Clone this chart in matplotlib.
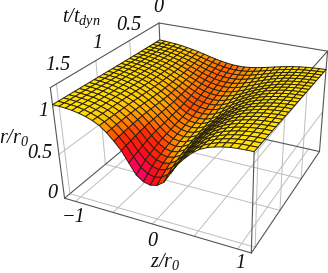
#!/usr/bin/env python3
""" Collapse surface r/r0 over z/r0 and t/t_dyn """
import matplotlib

matplotlib.use("Agg")
import matplotlib.pyplot as plt
import numpy as np
from matplotlib.colors import LinearSegmentedColormap
from mpl_toolkits.mplot3d.art3d import Poly3DCollection

W, H = 328, 273

plt.rcParams["font.family"] = ["Liberation Serif", "DejaVu Serif"]
plt.rcParams["mathtext.fontset"] = "custom"
plt.rcParams["mathtext.it"] = "Liberation Serif:italic"
plt.rcParams["mathtext.rm"] = "Liberation Serif:italic"

Z_MAX = 1.15
T_MAX = 1.57
R_MAX = 1.2

z_ticks = [-1.0, -0.5, 0.0, 0.5, 1.0]
t_ticks = [0.5, 1.0, 1.5]
r_ticks = [0.5, 1.0]

# r/r0, rows are t = 0 .. tmax, columns z = -zmax .. 0
r_half = np.array([
    [0.994, 0.991, 0.986, 0.980, 0.972, 0.961, 0.949, 0.934, 0.918, 0.901, 0.885, 0.871, 0.860, 0.852, 0.850],
    [0.995, 0.992, 0.987, 0.980, 0.972, 0.960, 0.946, 0.930, 0.911, 0.892, 0.874, 0.858, 0.845, 0.836, 0.833],
    [0.996, 0.993, 0.988, 0.981, 0.971, 0.958, 0.943, 0.925, 0.905, 0.883, 0.863, 0.844, 0.830, 0.820, 0.817],
    [0.998, 0.994, 0.988, 0.981, 0.971, 0.957, 0.941, 0.921, 0.898, 0.875, 0.851, 0.831, 0.814, 0.803, 0.800],
    [0.999, 0.995, 0.989, 0.981, 0.970, 0.956, 0.938, 0.916, 0.891, 0.866, 0.840, 0.818, 0.799, 0.787, 0.783],
    [1.000, 0.996, 0.990, 0.982, 0.970, 0.954, 0.935, 0.912, 0.885, 0.857, 0.829, 0.804, 0.784, 0.771, 0.767],
    [1.001, 0.997, 0.991, 0.982, 0.969, 0.953, 0.932, 0.907, 0.878, 0.848, 0.818, 0.791, 0.769, 0.755, 0.750],
    [1.003, 0.999, 0.993, 0.983, 0.970, 0.954, 0.932, 0.907, 0.877, 0.845, 0.811, 0.780, 0.755, 0.740, 0.733],
    [1.004, 1.000, 0.994, 0.985, 0.971, 0.954, 0.933, 0.906, 0.875, 0.841, 0.804, 0.770, 0.741, 0.724, 0.717],
    [1.006, 1.002, 0.996, 0.986, 0.972, 0.955, 0.933, 0.906, 0.873, 0.837, 0.798, 0.758, 0.726, 0.707, 0.700],
    [1.007, 1.004, 0.997, 0.987, 0.973, 0.956, 0.934, 0.906, 0.872, 0.833, 0.791, 0.747, 0.712, 0.690, 0.683],
    [1.009, 1.005, 0.999, 0.989, 0.974, 0.956, 0.934, 0.905, 0.870, 0.829, 0.784, 0.736, 0.697, 0.674, 0.667],
    [1.010, 1.007, 1.000, 0.990, 0.975, 0.957, 0.935, 0.905, 0.868, 0.825, 0.777, 0.725, 0.683, 0.658, 0.650],
    [1.012, 1.009, 1.002, 0.992, 0.977, 0.960, 0.938, 0.908, 0.870, 0.826, 0.776, 0.721, 0.675, 0.647, 0.638],
    [1.013, 1.010, 1.004, 0.994, 0.979, 0.962, 0.940, 0.910, 0.872, 0.827, 0.775, 0.717, 0.667, 0.637, 0.627],
    [1.015, 1.012, 1.005, 0.996, 0.982, 0.965, 0.943, 0.913, 0.874, 0.828, 0.774, 0.713, 0.659, 0.627, 0.616],
    [1.017, 1.014, 1.007, 0.998, 0.984, 0.967, 0.945, 0.915, 0.876, 0.828, 0.773, 0.708, 0.651, 0.616, 0.604],
    [1.018, 1.015, 1.009, 1.000, 0.986, 0.970, 0.948, 0.918, 0.878, 0.829, 0.771, 0.704, 0.643, 0.606, 0.593],
    [1.020, 1.017, 1.011, 1.002, 0.988, 0.972, 0.950, 0.920, 0.880, 0.830, 0.770, 0.700, 0.635, 0.595, 0.581],
    [1.021, 1.019, 1.013, 1.004, 0.991, 0.974, 0.952, 0.921, 0.879, 0.827, 0.764, 0.690, 0.622, 0.581, 0.566],
    [1.023, 1.020, 1.015, 1.007, 0.993, 0.976, 0.954, 0.922, 0.878, 0.823, 0.757, 0.678, 0.607, 0.565, 0.550],
    [1.024, 1.022, 1.017, 1.009, 0.996, 0.978, 0.955, 0.923, 0.877, 0.819, 0.750, 0.664, 0.590, 0.545, 0.529],
    [1.026, 1.024, 1.019, 1.011, 0.998, 0.980, 0.957, 0.924, 0.875, 0.813, 0.741, 0.648, 0.568, 0.520, 0.504],
    [1.027, 1.025, 1.021, 1.014, 1.001, 0.983, 0.958, 0.925, 0.873, 0.807, 0.731, 0.630, 0.536, 0.486, 0.469],
    [1.029, 1.027, 1.023, 1.016, 1.003, 0.985, 0.960, 0.925, 0.870, 0.800, 0.720, 0.610, 0.500, 0.448, 0.430],
])
r_grid = np.hstack([r_half, r_half[:, -2::-1]])
z_vals = np.linspace(-Z_MAX, Z_MAX, r_grid.shape[1])
t_vals = np.linspace(0, T_MAX, r_grid.shape[0])

# where the box corners land in the picture (pixels from top left)
corners_3d = [
    (-Z_MAX, T_MAX, 0), (Z_MAX, T_MAX, 0), (Z_MAX, 0, 0), (-Z_MAX, 0, 0),
    (-Z_MAX, T_MAX, R_MAX), (-Z_MAX, 0, R_MAX), (Z_MAX, 0, R_MAX), (Z_MAX, T_MAX, R_MAX),
]
corners_px = [
    (63, 198), (251, 253), (319, 151), (165, 117),
    (52, 87), (157, 23), (328, 51), (255, 134),
]


def fit_camera(points, pixels):
    """Projective camera from point matches"""
    rows = []
    for (x, y, z), (u, v) in zip(points, pixels):
        rows.append([x, y, z, 1, 0, 0, 0, 0, -u * x, -u * y, -u * z, -u])
        rows.append([0, 0, 0, 0, x, y, z, 1, -v * x, -v * y, -v * z, -v])
    cam = np.linalg.svd(np.array(rows, dtype=float))[2][-1].reshape(3, 4)
    if cam[2] @ np.array([*points[0], 1.0]) < 0:
        cam = -cam
    return cam


CAMERA = fit_camera(corners_3d, corners_px)

fig = plt.figure(figsize=(W / 100, H / 100), dpi=100)
ax = fig.add_axes([0, 0, 1, 1], projection="3d", computed_zorder=False)
ax.set_proj_type("ortho")
ax.set_axis_off()
ax.set_xlim(-Z_MAX, Z_MAX)
ax.set_ylim(0, T_MAX)
ax.set_zlim(0, R_MAX)


def picture_proj():
    """Projection matrix that reproduces the picture's box"""
    flip = np.array([[1, 0, 0], [0, -1, H], [0, 0, 1]], dtype=float)
    cam = ax.transData.inverted().get_matrix() @ flip @ CAMERA
    return np.vstack([cam[0], cam[1], [0, 0, 0, -1], cam[2]])


ax.get_proj = picture_proj


def line3(xs, ys, zs, color, lw, zorder=1):
    ax.plot(xs, ys, zs, color=color, lw=lw, zorder=zorder, solid_capstyle="round", clip_on=False)


GRID = "#bdbdbd"
EDGE = "#555555"

# face grids on the floor and the two side walls
for z in z_ticks:
    line3([z, z], [0, T_MAX], [0, 0], GRID, 0.7)
for t in t_ticks:
    line3([-Z_MAX, Z_MAX], [t, t], [0, 0], GRID, 0.7)
    for side in (-Z_MAX, Z_MAX):
        line3([side, side], [t, t], [0, R_MAX], GRID, 0.7)
for r in r_ticks:
    for side in (-Z_MAX, Z_MAX):
        line3([side, side], [0, T_MAX], [r, r], GRID, 0.7)

# box edges, behind the surface
edges = [(0, 1), (1, 2), (2, 3), (3, 0), (4, 5), (5, 6), (6, 7), (0, 4), (1, 7), (2, 6), (3, 5)]
for a, b in edges:
    pa, pb = corners_3d[a], corners_3d[b]
    line3([pa[0], pb[0]], [pa[1], pb[1]], [pa[2], pb[2]], EDGE, 0.8, zorder=2)

# surface colour follows the slope, like the coloured lights of the original
slope_t, slope_z = np.gradient(r_grid, t_vals, z_vals)
slope_cell = (-0.72 * slope_z - 2.6 * slope_t)
slope_cell = (slope_cell[:-1, :-1] + slope_cell[1:, 1:] + slope_cell[:-1, 1:] + slope_cell[1:, :-1]) / 4
light = LinearSegmentedColormap.from_list(
    "light",
    [(0.0, "#ffe100"), (0.14, "#ffc400"), (0.28, "#ff8a00"), (0.5, "#ff2a05"), (0.72, "#ff0a20"), (1.0, "#ff0064")],
)
colors = light(np.clip(slope_cell / 2.0, 0, 1))

zz, tt = np.meshgrid(z_vals, t_vals)
polys, faces = [], []
for i in range(r_grid.shape[0] - 1):
    for j in range(r_grid.shape[1] - 1):
        polys.append([
            (zz[i, j], tt[i, j], r_grid[i, j]),
            (zz[i, j + 1], tt[i, j + 1], r_grid[i, j + 1]),
            (zz[i + 1, j + 1], tt[i + 1, j + 1], r_grid[i + 1, j + 1]),
            (zz[i + 1, j], tt[i + 1, j], r_grid[i + 1, j]),
        ])
        faces.append(colors[i, j])
surface = Poly3DCollection(polys, facecolors=faces, edgecolors="#2a2010", linewidths=0.7, zorder=5, clip_on=False)
ax.add_collection3d(surface)


def label(x, y, text, size=14.5):
    fig.text(x / W, 1 - y / H, text, ha="center", va="center", fontsize=size, style="italic", color="#111111")


label(158, 8, "0")
label(129, 25, "0.5")
label(97, 44, "1")
label(58, 66, "1.5")
label(81, 18, r"$t/t_{dyn}$", 14.5)
label(43, 111, "1")
label(40, 153, "0.5")
label(52, 193, "0")
label(14, 137, r"$r/r_0$", 14.5)
label(74, 217, "\u22121")
label(152, 241, "0")
label(165, 261, r"$z/r_0$", 14.5)
label(240, 263, "1")

fig.savefig("out.png", dpi=100)
